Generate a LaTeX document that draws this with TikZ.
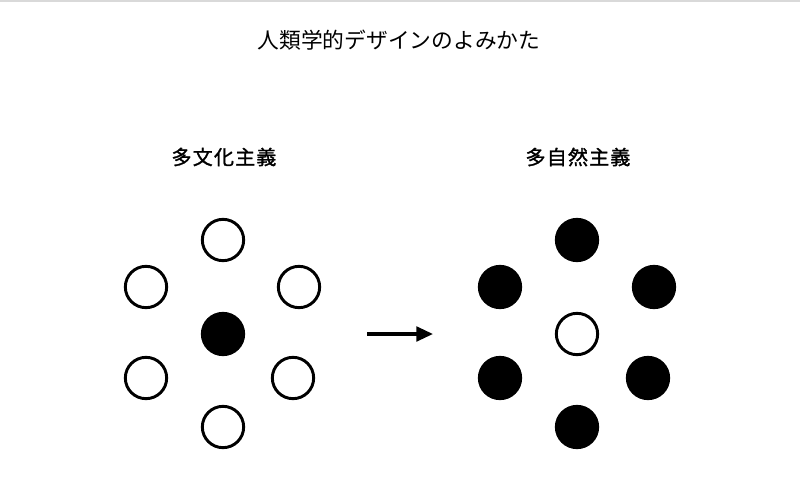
\documentclass[tikz,border=0pt]{standalone}
\usepackage{fontspec}
\usepackage{tikz}
\usetikzlibrary{arrows.meta}
\newfontfamily\jpfont{Noto Sans CJK JP}
\newfontfamily\jpfontb[FakeBold=1.3,LetterSpace=6]{Noto Sans CJK JP}
\tikzset{
    wcirc/.style={circle, draw=black, fill=white, line width=2.2pt, minimum size=31pt, inner sep=0pt},
    bcirc/.style={circle, draw=black, fill=black, line width=2.2pt, minimum size=31pt, inner sep=0pt},
    grouplabel/.style={font=\jpfontb\fontsize{15}{18}\selectfont},
}
\begin{document}
\begin{tikzpicture}[x=0.75pt,y=0.75pt,yscale=-1,xscale=1]
            \useasboundingbox (0,0) rectangle (800,500);
            %top rule
            \draw [line width=1.5pt, black!15] (0,0.5) -- (800,0.5);
            %title
            \node [font=\jpfont\fontsize{16.3}{19}\selectfont] (title) at (399,40) {人類学的デザインのよみかた};
            %
            %left group
            \node [grouplabel] (lefttitle) at (224,157) {多文化主義};
            \node [wcirc] (l1) at (223,240) {};
            \node [wcirc] (l2) at (146,287) {};
            \node [wcirc] (l3) at (299,287) {};
            \node [bcirc] (l0) at (223,334) {};
            \node [wcirc] (l4) at (146,378) {};
            \node [wcirc] (l5) at (293,378) {};
            \node [wcirc] (l6) at (223,427) {};
            %
            %right group
            \node [grouplabel] (righttitle) at (578,157) {多自然主義};
            \node [bcirc] (r1) at (577,240) {};
            \node [bcirc] (r2) at (500,287) {};
            \node [bcirc] (r3) at (654,287) {};
            \node [wcirc] (r0) at (577,334) {};
            \node [bcirc] (r4) at (500,378) {};
            \node [bcirc] (r5) at (648,378) {};
            \node [bcirc] (r6) at (577,427) {};
            %
            %arrow
            \coordinate (a1) at (367,334);
            \coordinate (a2) at (433,334);
            \draw [line width=2.4pt, -{Triangle[length=12.5pt,width=11pt]}] (a1) -- (a2);
            %
\end{tikzpicture}
\end{document}
